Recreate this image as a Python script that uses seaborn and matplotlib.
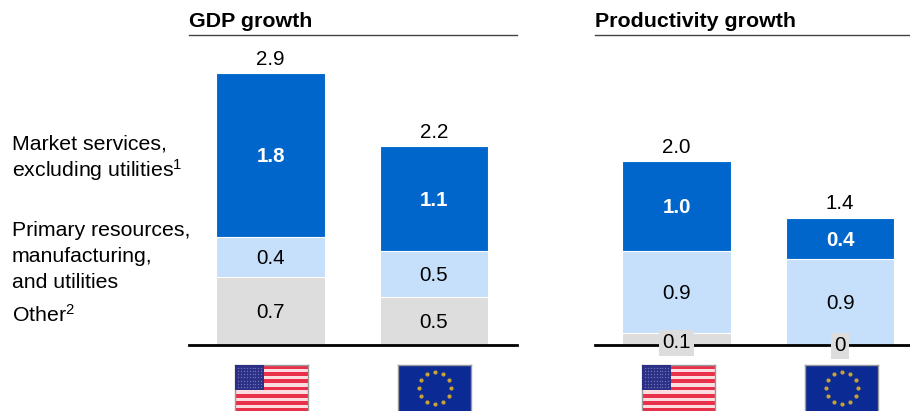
import matplotlib
matplotlib.use("Agg")
import matplotlib.pyplot as plt
import pandas as pd
import seaborn as sns

sns.set_theme(style="white")
plt.rcParams["font.family"] = ["Liberation Sans", "DejaVu Sans"]
plt.rcParams["mathtext.fontset"] = "custom"
plt.rcParams["mathtext.rm"] = "Liberation Sans"
plt.rcParams["mathtext.default"] = "rm"

W, H = 910, 411
regions = ["US", "EU"]
segments = ["Other", "Primary", "Market"]
colors = ["#DDDDDD", "#C6DFFA", "#0066CC"]

gdp_other = [0.73, 0.52]
gdp_primary = [0.43, 0.49]
gdp_market = [1.76, 1.13]
gdp_other_labels = ["0.7", "0.5"]
gdp_primary_labels = ["0.4", "0.5"]
gdp_market_labels = ["1.8", "1.1"]
gdp_totals = ["2.9", "2.2"]

prod_other = [0.13, 0.0]
prod_primary = [0.88, 0.92]
prod_market = [0.97, 0.45]
prod_other_labels = ["0.1", "0"]
prod_primary_labels = ["0.9", "0.9"]
prod_market_labels = ["1.0", "0.4"]
prod_totals = ["2.0", "1.4"]

side_lines = ["Market services,", "excluding utilities$^{1}$", "Primary resources,",
              "manufacturing,", "and utilities", "Other$^{2}$"]
side_y = [149, 177, 236, 262, 288, 322]

FS = 14.8
FS_SIDE = 15.3
FS_TITLE = 15.4
fig = plt.figure(figsize=(W / 100, H / 100), dpi=100)


def axes_px(x0, x1, top, bottom):
    return fig.add_axes([x0 / W, 1 - bottom / H, (x1 - x0) / W, (bottom - top) / H])


def centre(ax, x, y, s, **kw):
    ax.annotate(s, (x, y), xytext=(0, -1.2), textcoords="offset points", ha="center",
                va="center", fontsize=FS, annotation_clip=False, **kw)


def panel(ax, title, others, prims, markets, lo, lp, lm, totals, xmax):
    df = pd.DataFrame({"region": regions, "Other": others, "Primary": prims, "Market": markets})
    bottom = pd.Series([0.0, 0.0])
    for seg, col in zip(segments, colors):
        sns.barplot(data=df, x="region", y=seg, order=regions, color=col, saturation=1,
                    bottom=bottom.values, width=0.665, edgecolor="white", linewidth=0.8,
                    ax=ax, errorbar=None)
        bottom = bottom + df[seg]
    ax.set_xlim(-0.5, xmax)
    ax.set_ylim(0, 310 / 93)
    ax.set(xlabel="", ylabel="", xticks=[], yticks=[])
    ax.patch.set_alpha(0)
    for s in ("left", "right"):
        ax.spines[s].set_visible(False)
    ax.spines["top"].set_color("#444444")
    ax.spines["top"].set_linewidth(1)
    ax.spines["bottom"].set_color("black")
    ax.spines["bottom"].set_linewidth(2)
    ax.text(0, 1.012, title, transform=ax.transAxes, fontsize=FS_TITLE, fontweight="bold",
            color="black", ha="left", va="bottom")
    for i in range(2):
        o, p, m = others[i], prims[i], markets[i]
        if o < 0.2:
            ax.annotate(lo[i], (i, 0), xytext=(0, 1.5 if o > 0 else -0.7),
                        textcoords="offset points", ha="center", va="center", fontsize=FS,
                        color="black", zorder=10, annotation_clip=False,
                        bbox=dict(facecolor="#DDDDDD", edgecolor="none", pad=2.5))
        else:
            centre(ax, i, o / 2, lo[i], color="black")
        centre(ax, i, o + p / 2, lp[i], color="black")
        centre(ax, i, o + p + m / 2, lm[i], color="white", fontweight="bold")
        ax.annotate(totals[i], (i, o + p + m), xytext=(0, 3), textcoords="offset points",
                    ha="center", va="bottom", fontsize=FS, color="black")


ax1 = axes_px(189, 517, 35, 345)
panel(ax1, "GDP growth", gdp_other, gdp_primary, gdp_market,
      gdp_other_labels, gdp_primary_labels, gdp_market_labels, gdp_totals, 1.51)
ax2 = axes_px(595, 912, 35, 345)
panel(ax2, "Productivity growth", prod_other, prod_primary, prod_market,
      prod_other_labels, prod_primary_labels, prod_market_labels, prod_totals, 1.44)

for line, y in zip(side_lines, side_y):
    fig.text(12 / W, 1 - y / H, line, fontsize=FS_SIDE, color="black", ha="left", va="baseline")


def finish(ax):
    ax.set_xticks([])
    ax.set_yticks([])
    for s in ax.spines.values():
        s.set_color("#999999")
        s.set_linewidth(1)
        s.set_visible(True)


def us_flag(x0):
    ax = axes_px(x0, x0 + 73, 365, 412)
    ax.set_xlim(0, 1)
    ax.set_ylim(13, 0)
    for k in range(13):
        ax.axhspan(k, k + 1, color="#E8304A" if k % 2 == 0 else "#FBDCE0", lw=0)
    ax.axhspan(0, 7, xmin=0, xmax=0.4, color="#2B2F86", lw=0, zorder=3)
    xs = [0.04 + 0.04 * i for i in range(9)]
    ys = [0.7 + 0.9 * j for j in range(7)]
    ax.scatter([x for x in xs for _ in ys], [y for _ in xs for y in ys], s=1.0,
               color="#6F72B5", lw=0, zorder=4)
    finish(ax)


def eu_flag(x0):
    ax = axes_px(x0, x0 + 73, 365, 412)
    ax.set_facecolor("#0B2A94")
    ax.set_xlim(0, 73)
    ax.set_ylim(47, 0)
    cx = [36.5, 44.5, 50.5, 52.5, 50.5, 44.5, 36.5, 28.5, 22.5, 20.5, 22.5, 28.5]
    cy = [7, 9, 15, 23, 31, 37, 39, 37, 31, 23, 15, 9]
    ax.scatter(cx, cy, marker="o", s=9, color="#C9A235", lw=0)
    finish(ax)


us_flag(235)
eu_flag(398)
us_flag(642)
eu_flag(805)

fig.savefig("out.png", dpi=100, facecolor="white")
